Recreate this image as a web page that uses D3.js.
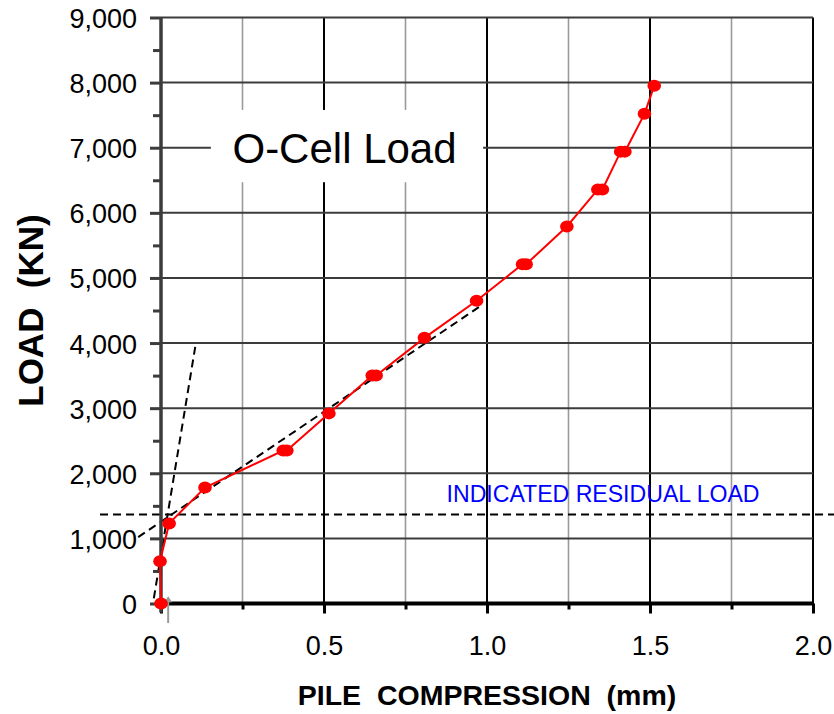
<!DOCTYPE html>
<html>
<head>
<meta charset="utf-8">
<script src="https://cdn.jsdelivr.net/npm/d3@7"></script>
<style>
  body { margin: 0; background: #fff; }
  svg { display: block; font-family: Arial, 'Liberation Sans', sans-serif; }
</style>
</head>
<body>
<svg width="834" height="714"></svg>
<script>
// O-cell test readings: pile compression (mm) against load (kN)
// paired points are the start and end of a load hold
var compression = [0.000, -0.003, 0.025, 0.135, 0.375, 0.386, 0.515, 0.648, 0.660, 0.808, 0.968,
    1.109, 1.120, 1.245, 1.340, 1.354, 1.410, 1.423, 1.483, 1.513];
var load = [0, 650, 1230, 1780, 2350, 2350, 2920, 3500, 3500, 4080, 4650,
    5210, 5210, 5790, 6360, 6360, 6940, 6940, 7520, 7950];

// tick values
var loadTicks = [0, 1000, 2000, 3000, 4000, 5000, 6000, 7000, 8000, 9000];
var loadMinorTicks = [500, 1500, 2500, 3500, 4500, 5500, 6500, 7500, 8500];
var compressionTicks = [0, 0.5, 1.0, 1.5, 2.0];
var compressionMinorTicks = [0.25, 0.75, 1.25, 1.75];

// construction lines
var initialSlope = [[-0.022, 80], [0.105, 3940]];
var loadingSlope = [[-0.07, 1020], [0.985, 4585]];
var residualLoad = 1365;
var residualExtent = [-0.187, 2.07];

var svg = d3.select('svg');

var x = d3.scaleLinear().domain([0, 2]).range([161, 813]);
var y = d3.scaleLinear().domain([0, 9000]).range([603.5, 17.5]);

// minor vertical grid lines (grey)
svg.append('g').selectAll('line')
    .data(compressionMinorTicks)
    .enter().append('line')
    .attr('x1', d => x(d)).attr('x2', d => x(d))
    .attr('y1', y(9000)).attr('y2', y(0))
    .style('stroke', '#9a9a9a')
    .style('stroke-width', 1.6);

// major vertical grid lines (black)
svg.append('g').selectAll('line')
    .data(compressionTicks.slice(1))
    .enter().append('line')
    .attr('x1', d => x(d)).attr('x2', d => x(d))
    .attr('y1', y(9000)).attr('y2', y(0))
    .style('stroke', '#000')
    .style('stroke-width', 2);

// horizontal grid lines
svg.append('g').selectAll('line')
    .data(loadTicks.slice(1))
    .enter().append('line')
    .attr('x1', x(0)).attr('x2', x(2))
    .attr('y1', d => y(d)).attr('y2', d => y(d))
    .style('stroke', '#3c3c3c')
    .style('stroke-width', 2);

// white label box covering the grid
svg.append('rect')
    .attr('x', x(0.153))
    .attr('y', y(7580))
    .attr('width', x(0.988) - x(0.153))
    .attr('height', y(6470) - y(7580))
    .style('fill', '#fff');

svg.append('text')
    .attr('x', x(0.563))
    .attr('y', y(6765))
    .attr('text-anchor', 'middle')
    .style('font-size', '42px')
    .style('fill', '#000')
    .text('O-Cell Load');

// dashed construction lines
var line = d3.line().x(d => x(d[0])).y(d => y(d[1]));

[initialSlope, loadingSlope, residualExtent.map(v => [v, residualLoad])].forEach(function(pts) {
    svg.append('path')
        .attr('d', line(pts))
        .style('fill', 'none')
        .style('stroke', '#000')
        .style('stroke-width', 2)
        .style('stroke-dasharray', '8,5');
});

svg.append('text')
    .attr('x', x(1.356))
    .attr('y', y(1555))
    .attr('text-anchor', 'middle')
    .attr('textLength', 313)
    .attr('lengthAdjust', 'spacingAndGlyphs')
    .style('font-size', '23px')
    .style('fill', '#0000ff')
    .text('INDICATED RESIDUAL LOAD');

// y axis: major and minor ticks
var yAxis = d3.axisLeft(y)
    .tickValues(loadTicks)
    .tickFormat(d3.format(','))
    .tickSize(11)
    .tickPadding(13);

var yAxisG = svg.append('g')
    .attr('transform', 'translate(' + x(0) + ',0)')
    .call(yAxis);
yAxisG.select('.domain').remove();
yAxisG.selectAll('line').style('stroke', '#3c3c3c').style('stroke-width', 3);
yAxisG.selectAll('text')
    .attr('dy', '0.37em')
    .style('font-size', '27px')
    .style('font-family', 'Arial, "Liberation Sans", sans-serif')
    .style('fill', '#000');

var yMinorG = svg.append('g')
    .attr('transform', 'translate(' + x(0) + ',0)')
    .call(d3.axisLeft(y).tickValues(loadMinorTicks).tickSize(8).tickFormat(''));
yMinorG.select('.domain').remove();
yMinorG.selectAll('line').style('stroke', '#3c3c3c').style('stroke-width', 3);

// x axis: major and minor ticks
var xAxis = d3.axisBottom(x)
    .tickValues(compressionTicks)
    .tickFormat(d3.format('.1f'))
    .tickSize(10)
    .tickPadding(22);

var xAxisG = svg.append('g')
    .attr('transform', 'translate(0,' + y(0) + ')')
    .call(xAxis);
xAxisG.select('.domain').remove();
xAxisG.selectAll('line').style('stroke', '#000').style('stroke-width', 3);
xAxisG.selectAll('text')
    .style('font-size', '27px')
    .style('font-family', 'Arial, "Liberation Sans", sans-serif')
    .style('fill', '#000');

var xMinorG = svg.append('g')
    .attr('transform', 'translate(0,' + y(0) + ')')
    .call(d3.axisBottom(x).tickValues(compressionMinorTicks).tickSize(6).tickFormat(''));
xMinorG.select('.domain').remove();
xMinorG.selectAll('line').style('stroke', '#000').style('stroke-width', 3);

// axis lines
svg.append('line')
    .attr('x1', x(0)).attr('x2', x(0))
    .attr('y1', y(9000)).attr('y2', y(0) + 9)
    .style('stroke', '#3c3c3c')
    .style('stroke-width', 3.5);

svg.append('line')
    .attr('x1', x(0)).attr('x2', x(2) + 1)
    .attr('y1', y(0)).attr('y2', y(0))
    .style('stroke', '#000')
    .style('stroke-width', 4);

// grey arrow under the origin
svg.append('defs').append('marker')
    .attr('id', 'arrowHead')
    .attr('viewBox', '0 0 10 10')
    .attr('refX', 5).attr('refY', 2)
    .attr('markerWidth', 4).attr('markerHeight', 4)
    .attr('orient', 'auto-start-reverse')
    .append('path')
    .attr('d', 'M0,8 L5,0 L10,8 Z')
    .style('fill', '#999');

svg.append('line')
    .attr('x1', x(0.022)).attr('x2', x(0.022))
    .attr('y1', y(-300)).attr('y2', y(90))
    .style('stroke', '#999')
    .style('stroke-width', 2);

svg.append('path')
    .attr('d', 'M' + (x(0.022) - 4) + ',' + y(20) + 'L' + x(0.022) + ',' + y(110) + 'L' + (x(0.022) + 4) + ',' + y(20) + 'Z')
    .style('fill', '#999');

// red data line with markers
var pts = compression.map((c, i) => [c, load[i]]);

svg.append('path')
    .attr('d', line(pts))
    .style('fill', 'none')
    .style('stroke', '#ff0000')
    .style('stroke-width', 2);

svg.append('g').selectAll('ellipse')
    .data(pts)
    .enter().append('ellipse')
    .attr('cx', d => x(d[0]))
    .attr('cy', d => y(d[1]))
    .attr('rx', 6.8)
    .attr('ry', 6)
    .style('fill', '#ff0000');

// axis titles
svg.append('text')
    .attr('x', x(1.0))
    .attr('y', 705)
    .attr('text-anchor', 'middle')
    .style('font-size', '28.5px')
    .style('font-weight', 'bold')
    .style('white-space', 'pre')
    .text('PILE  COMPRESSION  (mm)');

svg.append('text')
    .attr('transform', 'translate(43,' + y(4500) + ') rotate(-90)')
    .attr('text-anchor', 'middle')
    .style('font-size', '35px')
    .style('font-weight', 'bold')
    .style('white-space', 'pre')
    .text('LOAD  (KN)');
</script>
</body>
</html>
